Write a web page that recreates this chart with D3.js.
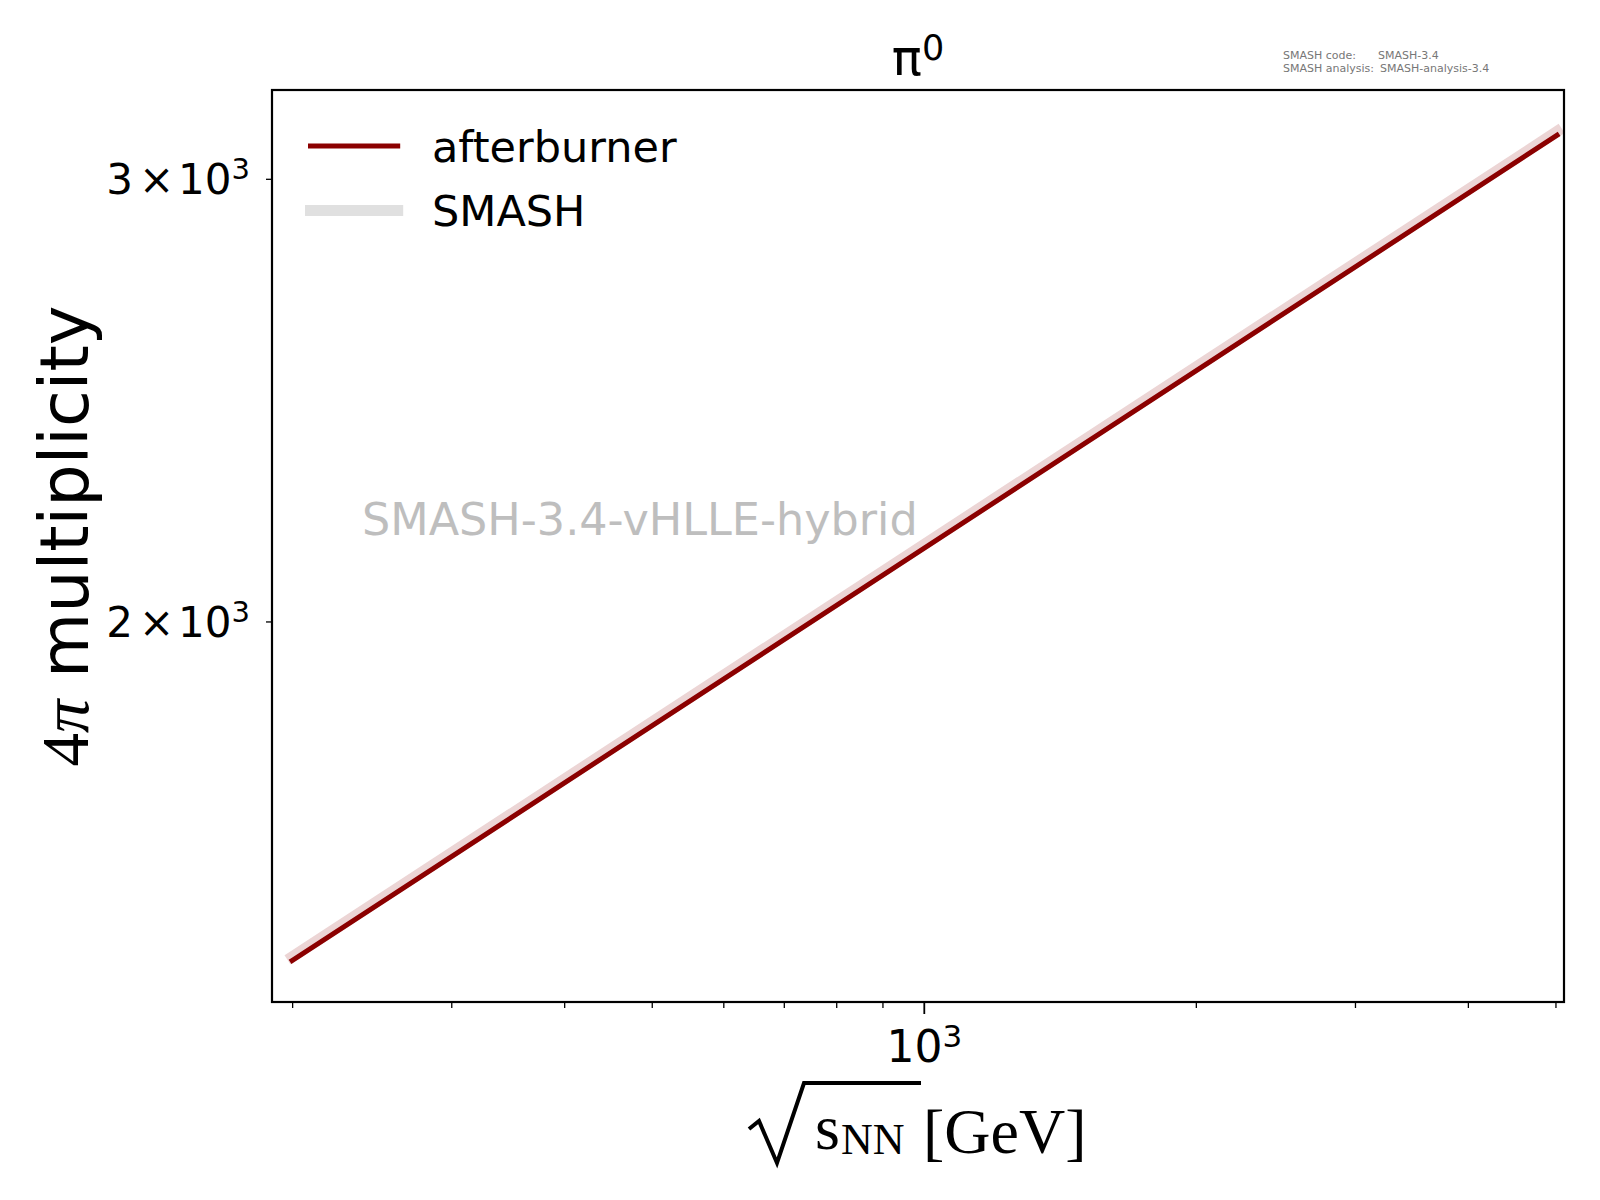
<!DOCTYPE html>
<html>
<head>
<meta charset="utf-8">
<script src="https://cdn.jsdelivr.net/npm/d3@7"></script>
<style>
  body { margin: 0; background: #fff; }
  text { font-family: "DejaVu Sans", sans-serif; }
</style>
</head>
<body>
<script>
// data
var energies = [200, 5020];            // sqrt(s_NN) in GeV
var afterburner = [1466, 3122];
var smash = [1471, 3133];
var seriesNames = ["afterburner", "SMASH"];

// tick setup
var xMajorTicks = [1000];
var xMinorTicks = [200, 300, 400, 500, 600, 700, 800, 900, 2000, 3000, 4000, 5000];
var yTicks = [2000, 3000];
var yTickMantissa = ["2", "3"];
var xLimits = [190, 5110];

//Width and height
var w = 1600;
var h = 1200;
var plotLeft = 272, plotRight = 1564, plotTop = 90, plotBottom = 1002;

var svg = d3.select("body")
    .append("svg")
    .attr("width", w)
    .attr("height", h);

//Create scale functions
var xScale = d3.scaleLog()
    .domain(xLimits)
    .range([plotLeft, plotRight]);

// y limits: data extent with 5% padding in log space (like matplotlib autoscale)
var allY = afterburner.concat(smash);
var lo = Math.log10(d3.min(allY)), hi = Math.log10(d3.max(allY));
var pad = (hi - lo) * 0.05;
var yScale = d3.scaleLog()
    .domain([Math.pow(10, lo - pad), Math.pow(10, hi + pad)])
    .range([plotBottom, plotTop]);

//Lines
var line = d3.line()
    .x(function (d) { return xScale(d[0]); })
    .y(function (d) { return yScale(d[1]); });

svg.append("path")
    .datum(d3.zip(energies, smash))
    .attr("d", line)
    .attr("fill", "none")
    .attr("stroke", "#ecd5d5")
    .attr("stroke-width", 11)
    .attr("stroke-linecap", "square");

svg.append("path")
    .datum(d3.zip(energies, afterburner))
    .attr("d", line)
    .attr("fill", "none")
    .attr("stroke", "#8b0000")
    .attr("stroke-width", 5)
    .attr("stroke-linecap", "square");

//Axes
var xMajor = svg.append("g")
    .attr("transform", "translate(0," + plotBottom + ")")
    .call(d3.axisBottom(xScale).tickValues(xMajorTicks).tickSize(12).tickFormat(""));
var xMinor = svg.append("g")
    .attr("transform", "translate(0," + plotBottom + ")")
    .call(d3.axisBottom(xScale).tickValues(xMinorTicks).tickSize(6).tickFormat(""));
var yAx = svg.append("g")
    .attr("transform", "translate(" + plotLeft + ",0)")
    .call(d3.axisLeft(yScale).tickValues(yTicks).tickSize(6).tickFormat(""));

[xMajor, xMinor, yAx].forEach(function (g) {
    g.select(".domain").remove();
    g.selectAll(".tick line").attr("stroke", "#000");
    g.selectAll(".tick text").remove();
});
xMajor.selectAll(".tick line").attr("stroke-width", 1.8);
xMinor.selectAll(".tick line").attr("stroke-width", 1.3);
yAx.selectAll(".tick line").attr("stroke-width", 1.3);

// tick labels with superscripts
xMajor.selectAll(".tick").each(function (d) {
    var t = d3.select(this).append("text")
        .attr("y", 60)
        .attr("text-anchor", "middle")
        .attr("fill", "#000")
        .style("font-size", "44px");
    t.append("tspan").text("10");
    t.append("tspan").attr("font-size", "31px").attr("dy", "-15").text(Math.round(Math.log10(d)));
});
yAx.selectAll(".tick").each(function (d, i) {
    var t = d3.select(this).append("text")
        .attr("x", -22)
        .attr("y", 15)
        .attr("text-anchor", "end")
        .attr("fill", "#000")
        .style("font-size", "42px");
    t.append("tspan").text(yTickMantissa[i]);
    t.append("tspan").attr("dx", 6).text("\u00d7");
    t.append("tspan").attr("dx", 4).text("10");
    t.append("tspan").attr("font-size", "29px").attr("dy", "-15").text("3");
});

//Frame
svg.append("rect")
    .attr("x", plotLeft).attr("y", plotTop)
    .attr("width", plotRight - plotLeft).attr("height", plotBottom - plotTop)
    .attr("fill", "none")
    .attr("stroke", "#000")
    .attr("stroke-width", 2.2);

//Title
var title = svg.append("text")
    .attr("x", (plotLeft + plotRight) / 2)
    .attr("y", 75)
    .attr("text-anchor", "middle")
    .style("font-size", "50px");
title.append("tspan").text("\u03c0");
title.append("tspan").attr("font-size", "35px").attr("dy", "-15").text("0");

//Watermark
svg.append("text")
    .attr("x", 362)
    .attr("y", 535)
    .attr("fill", "#bebebe")
    .style("font-size", "44.5px")
    .text("SMASH-3.4-vHLLE-hybrid");

//Version info
var info = [["SMASH code:", "SMASH-3.4"], ["SMASH analysis:", "SMASH-analysis-3.4"]];
info.forEach(function (row, i) {
    svg.append("text").attr("x", 1283).attr("y", 59 + i * 12.5)
        .attr("fill", "#777").style("font-size", "11px").text(row[0]);
    svg.append("text").attr("x", i === 0 ? 1378 : 1380).attr("y", 59 + i * 12.5)
        .attr("fill", "#777").style("font-size", "11px").text(row[1]);
});

//Legend
var legendColors = ["#8b0000", "#e0e0e0"];
var legendWidths = [5, 11];
var legendY = [146, 210.5];
seriesNames.forEach(function (name, i) {
    svg.append("line")
        .attr("x1", 310.5).attr("x2", 397.7)
        .attr("y1", legendY[i]).attr("y2", legendY[i])
        .attr("stroke", legendColors[i])
        .attr("stroke-width", legendWidths[i])
        .attr("stroke-linecap", "square");
    svg.append("text")
        .attr("x", 432)
        .attr("y", legendY[i] + 15.5)
        .style("font-size", "43px")
        .text(name);
});

//Y label
var ylab = svg.append("text")
    .attr("transform", "translate(88,536) rotate(-90)")
    .attr("text-anchor", "middle")
    .style("font-size", "67px");
ylab.append("tspan").style("font-family", "'Liberation Serif', serif").text("4");
ylab.append("tspan").style("font-family", "'Liberation Serif', serif").style("font-style", "italic").text("\u03c0");
ylab.append("tspan").text(" multiplicity");

//X label: sqrt(s_NN) [GeV]
var xl = svg.append("g");
xl.append("path")
    .attr("d", "M749,1129 L759,1121 L777,1163 L804,1083 L921,1083")
    .attr("fill", "none")
    .attr("stroke", "#000")
    .attr("stroke-width", 4)
    .attr("stroke-linejoin", "miter");
xl.append("text")
    .attr("x", 815).attr("y", 1149)
    .style("font-family", "'Liberation Serif', serif")
    .style("font-size", "64px")
    .text("s");
xl.append("text")
    .attr("x", 841).attr("y", 1154)
    .style("font-family", "'Liberation Serif', serif")
    .style("font-size", "44px")
    .text("NN");
xl.append("text")
    .attr("x", 923).attr("y", 1153)
    .style("font-family", "'Liberation Serif', serif")
    .style("font-size", "64px")
    .text("[GeV]");
</script>
</body>
</html>
